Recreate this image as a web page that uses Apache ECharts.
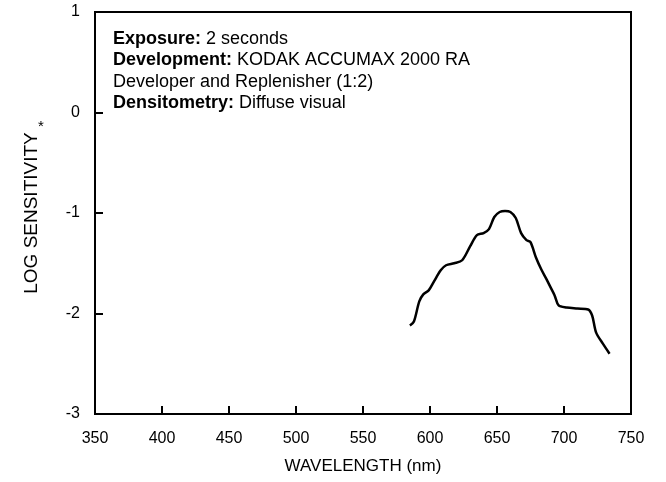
<!DOCTYPE html>
<html>
<head>
<meta charset="utf-8">
<script src="https://cdn.jsdelivr.net/npm/echarts@6/dist/echarts.min.js"></script>
<style>
    html, body { margin: 0; padding: 0; background: #fff; }
    #chart { width: 666px; height: 482px; }
</style>
</head>
<body>
<div id="chart"></div>
<script>
// wavelength (nm) and log sensitivity
const wavelengths = [585, 588, 592, 595, 599, 603, 608, 612, 618, 624, 630, 635, 640, 644, 648, 652, 656, 660, 664, 668, 672, 675, 679, 683, 687, 690, 693, 696, 702, 710, 718, 721, 724, 729, 734]
const logSensitivity = [-2.12, -2.08, -1.88, -1.81, -1.77, -1.68, -1.57, -1.52, -1.50, -1.47, -1.33, -1.22, -1.20, -1.16, -1.04, -0.99, -0.98, -0.99, -1.05, -1.20, -1.27, -1.29, -1.44, -1.56, -1.66, -1.74, -1.82, -1.92, -1.94, -1.95, -1.96, -2.02, -2.19, -2.30, -2.40]

const font = 'Liberation Sans, Arial, sans-serif'

const chart = echarts.init(document.getElementById('chart'))
chart.setOption({
    animation: false,
    grid: {
        left: 95,
        right: 35,
        top: 12,
        bottom: 68,
        show: true,
        borderColor: '#000',
        borderWidth: 2
    },
    xAxis: {
        type: 'value',
        min: 350,
        max: 750,
        interval: 50,
        name: 'WAVELENGTH (nm)',
        nameLocation: 'middle',
        nameGap: 44,
        nameTextStyle: { color: '#000', fontSize: 17, fontFamily: font },
        axisLine: { onZero: false, lineStyle: { color: '#000', width: 2 } },
        axisTick: { inside: true, length: 8, lineStyle: { color: '#000', width: 2 } },
        axisLabel: { color: '#000', fontSize: 16, fontFamily: font, margin: 17 },
        splitLine: { show: false }
    },
    yAxis: {
        type: 'value',
        min: -3,
        max: 1,
        interval: 1,
        name: 'LOG SENSITIVITY',
        nameLocation: 'middle',
        nameGap: 54,
        nameTextStyle: { color: '#000', fontSize: 19, fontFamily: font },
        axisLine: { onZero: false, lineStyle: { color: '#000', width: 2 } },
        axisTick: { inside: true, length: 8, lineStyle: { color: '#000', width: 2 } },
        axisLabel: { color: '#000', fontSize: 16, fontFamily: font, margin: 15 },
        splitLine: { show: false }
    },
    graphic: [
        {
            type: 'text',
            left: 113,
            top: 28,
            style: {
                text: '{b|Exposure:} 2 seconds\n{b|Development:} KODAK ACCUMAX 2000 RA\nDeveloper and Replenisher (1:2)\n{b|Densitometry:} Diffuse visual',
                font: '18px ' + font,
                fill: '#000',
                lineHeight: 21.5,
                rich: {
                    b: { fontWeight: 'bold', fontSize: 18, fontFamily: font, lineHeight: 21.5 }
                }
            }
        },
        {
            type: 'text',
            left: 38,
            top: 119,
            style: { text: '*', font: '15px ' + font, fill: '#000' }
        }
    ],
    series: [{
        type: 'line',
        data: wavelengths.map((w, i) => [w, logSensitivity[i]]),
        smooth: 0.3,
        showSymbol: false,
        lineStyle: { color: '#000', width: 2.5 }
    }]
})
</script>
</body>
</html>
